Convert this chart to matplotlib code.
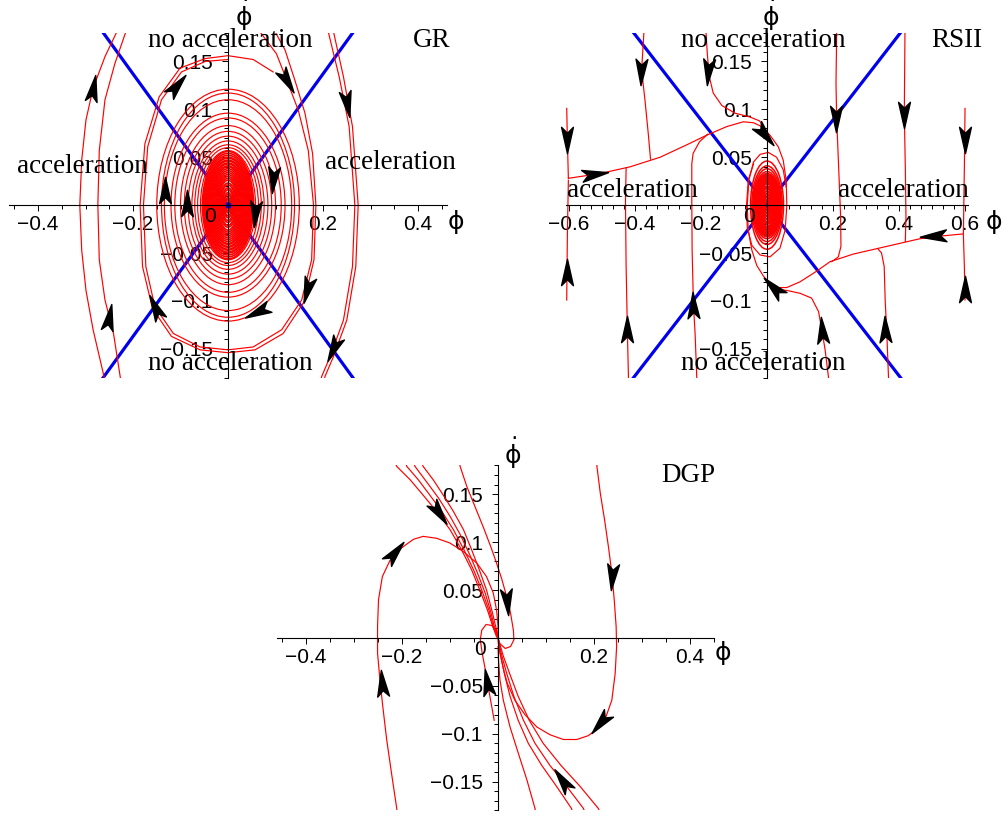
import matplotlib
matplotlib.use("Agg")
import matplotlib.pyplot as plt
from matplotlib.patches import Ellipse
from matplotlib.path import Path
from matplotlib.markers import MarkerStyle
from matplotlib.transforms import Affine2D
from matplotlib.ticker import MultipleLocator

plt.rcParams['font.family'] = 'Liberation Sans'
plt.rcParams['mathtext.fontset'] = 'dejavusans'

# ---------------- GR panel ----------------
gr_slope = 0.685

gr_l1_x = [-0.228, -0.234, -0.259, -0.284, -0.299, -0.308, -0.312, -0.308, -0.299, -0.284, -0.261, -0.255]
gr_l1_y = [0.190, 0.181, 0.155, 0.122, 0.089, 0.047, 0.0, -0.047, -0.089, -0.130, -0.179, -0.190]
gr_l2_x = [-0.210, -0.215, -0.238, -0.259, -0.271, -0.274, -0.271, -0.259, -0.241, -0.227, -0.224]
gr_l2_y = [0.190, 0.181, 0.148, 0.110, 0.057, 0.0, -0.057, -0.099, -0.134, -0.179, -0.190]
gr_r1_x = [0.218, 0.222, 0.243, 0.262, 0.274, 0.269, 0.250, 0.222, 0.204, 0.200]
gr_r1_y = [0.190, 0.181, 0.134, 0.082, 0.0, -0.064, -0.120, -0.158, -0.179, -0.190]
gr_r2_x = [0.207, 0.211, 0.234, 0.255, 0.267, 0.262, 0.243, 0.215, 0.197, 0.193]
gr_r2_y = [0.190, 0.181, 0.134, 0.082, 0.0, -0.064, -0.120, -0.158, -0.179, -0.190]

gr_c1_x = [0.060, 0.067, 0.102, 0.124, 0.148, 0.169, 0.180, 0.176, 0.155, 0.113, 0.053, 0.0,
           -0.059, -0.115, -0.154, -0.173, -0.178, -0.169, -0.140, -0.098, -0.048, 0.0]
gr_c1_y = [0.190, 0.181, 0.158, 0.130, 0.099, 0.057, 0.0, -0.057, -0.099, -0.130, -0.148, -0.151,
           -0.148, -0.134, -0.106, -0.064, 0.0, 0.061, 0.110, 0.139, 0.150, 0.152]
gr_c2_x = [0.094, 0.099, 0.120, 0.141, 0.162, 0.178, 0.185, 0.181, 0.160, 0.116, 0.057, 0.0,
           -0.059, -0.119, -0.159, -0.180, -0.185, -0.175, -0.145, -0.101, -0.048, 0.0, 0.053, 0.095]
gr_c2_y = [0.190, 0.181, 0.162, 0.130, 0.096, 0.054, 0.0, -0.057, -0.101, -0.134, -0.151, -0.154,
           -0.151, -0.137, -0.108, -0.064, 0.0, 0.064, 0.113, 0.143, 0.153, 0.156, 0.152, 0.139]

gr_ring_a = [0.150, 0.140, 0.134, 0.120, 0.112, 0.100, 0.092, 0.084, 0.076, 0.070, 0.064, 0.058]
gr_ring_b = [0.121, 0.117, 0.110, 0.096, 0.091, 0.083, 0.077, 0.072, 0.067, 0.063, 0.060, 0.057]
gr_core_a = [0.054, 0.052, 0.050, 0.048, 0.046, 0.044, 0.042, 0.040, 0.038, 0.036, 0.034, 0.032, 0.030,
             0.028, 0.026, 0.024, 0.022, 0.020, 0.018, 0.016, 0.014, 0.012, 0.010, 0.008, 0.006, 0.004]
gr_core_b = [0.056, 0.054, 0.052, 0.050, 0.049, 0.047, 0.046, 0.044, 0.043, 0.041, 0.040, 0.038, 0.036,
             0.034, 0.032, 0.030, 0.028, 0.026, 0.023, 0.021, 0.018, 0.016, 0.013, 0.011, 0.008, 0.006]

gr_arrow_x = [-0.284, -0.108, 0.124, 0.250, 0.095, 0.057, -0.087, -0.133, 0.166, 0.060, 0.222, -0.154, -0.250]
gr_arrow_y = [0.122, 0.125, 0.130, 0.106, 0.026, -0.009, 0.002, 0.016, -0.089, -0.111, -0.150, -0.106, -0.117]
gr_arrow_ang = [80, 50, -60, -80, -95, -95, 90, 90, -105, -155, -115, 115, 80]

# ---------------- RSII panel ----------------
rs_slope = 0.445

rs_v1a_x = [-0.607, -0.605, -0.602]
rs_v1a_y = [0.101, 0.068, 0.028]
rs_v1b_x = [-0.607, -0.605, -0.602]
rs_v1b_y = [-0.099, -0.030, 0.026]
rs_m1_x = [-0.602, -0.506, -0.415, -0.324, -0.243, -0.183, -0.122, -0.072, -0.041, -0.016, 0.009,
           0.034, 0.049, 0.058, 0.060, 0.055, 0.039, 0.009, -0.021, -0.046, -0.060, -0.062, -0.057, -0.041]
rs_m1_y = [0.028, 0.033, 0.040, 0.050, 0.063, 0.073, 0.082, 0.087, 0.086, 0.082, 0.073,
           0.061, 0.047, 0.026, 0.0, -0.026, -0.045, -0.054, -0.052, -0.042, -0.023, 0.0, 0.026, 0.043]
rs_v2_x = [-0.373, -0.373, -0.380, -0.370, -0.360, -0.353]
rs_v2_y = [0.190, 0.181, 0.141, 0.110, 0.075, 0.048]
rs_v3_x = [-0.420, -0.420, -0.423, -0.427, -0.429, -0.427]
rs_v3_y = [-0.190, -0.179, -0.134, -0.064, 0.005, 0.039]
rs_v4_x = [-0.213, -0.213, -0.218, -0.223, -0.227, -0.228, -0.228, -0.224, -0.205, -0.180]
rs_v4_y = [-0.190, -0.179, -0.134, -0.104, -0.047, 0.005, 0.043, 0.054, 0.066, 0.074]
rs_u1_x = [-0.186, -0.185, -0.181, -0.175, -0.163, -0.137, -0.097, -0.052, -0.023, -0.003]
rs_u1_y = [0.190, 0.181, 0.158, 0.134, 0.117, 0.104, 0.096, 0.092, 0.088, 0.078]

rs_v5a_x = [0.600, 0.598, 0.595]
rs_v5a_y = [0.101, 0.040, -0.030]
rs_v5b_x = [0.600, 0.598, 0.595]
rs_v5b_y = [-0.099, -0.064, -0.031]
rs_m2_x = [0.595, 0.534, 0.464, 0.363, 0.262, 0.191, 0.150, 0.100, 0.060, 0.029, 0.009, -0.011,
           -0.031, -0.046, -0.057, -0.060, -0.055, -0.041, -0.021, 0.004, 0.029, 0.049, 0.058]
rs_m2_y = [-0.030, -0.032, -0.035, -0.043, -0.051, -0.059, -0.069, -0.080, -0.086, -0.086, -0.082, -0.074,
           -0.063, -0.047, -0.026, 0.0, 0.026, 0.045, 0.053, 0.055, 0.050, 0.037, 0.019]
rs_l1_x = [0.187, 0.186, 0.176, 0.166, 0.156, 0.135, 0.100, 0.060, 0.034]
rs_l1_y = [-0.190, -0.179, -0.151, -0.130, -0.111, -0.097, -0.092, -0.089, -0.088]
rs_v6_x = [0.211, 0.211, 0.209, 0.211, 0.217, 0.223, 0.224, 0.216, 0.196]
rs_v6_y = [0.190, 0.181, 0.127, 0.090, 0.040, -0.012, -0.043, -0.054, -0.059]
rs_v7_x = [0.418, 0.418, 0.416, 0.419, 0.421, 0.419]
rs_v7_y = [0.190, 0.181, 0.096, 0.040, -0.012, -0.038]
rs_v8_x = [0.368, 0.368, 0.363, 0.358, 0.355, 0.347, 0.337]
rs_v8_y = [-0.190, -0.179, -0.134, -0.099, -0.064, -0.050, -0.046]

rs_core_a = [0.050, 0.046, 0.043, 0.041, 0.040, 0.039, 0.037, 0.036, 0.034, 0.033, 0.031, 0.030, 0.028, 0.027,
             0.025, 0.024, 0.022, 0.021, 0.019, 0.018, 0.016, 0.015, 0.013, 0.012, 0.010, 0.009, 0.007, 0.006, 0.004]
rs_core_b = [0.046, 0.041, 0.038, 0.035, 0.033, 0.032, 0.031, 0.030, 0.029, 0.028, 0.027, 0.026, 0.025, 0.024,
             0.023, 0.022, 0.020, 0.019, 0.018, 0.017, 0.015, 0.014, 0.012, 0.011, 0.009, 0.008, 0.006, 0.005, 0.004]

rs_arrow_x = [-0.607, -0.607, -0.383, -0.425, -0.223, -0.178, -0.006, -0.520,
              0.600, 0.600, 0.504, 0.019, 0.166, 0.209, 0.415, 0.358]
rs_arrow_y = [0.068, -0.070, 0.139, -0.129, -0.104, 0.139, 0.073, 0.032,
              0.068, -0.087, -0.032, -0.085, -0.130, 0.090, 0.094, -0.129]
rs_arrow_ang = [-90, 90, -92, 90, 92, -95, -50, 8,
                -90, 90, 183, 135, 95, -90, -90, 92]

# ---------------- DGP panel ----------------
dg_d1_x = [-0.209, -0.211, -0.222, -0.232, -0.240, -0.246, -0.251, -0.251, -0.249, -0.241, -0.225,
           -0.201, -0.176, -0.156, -0.128, -0.100, -0.072, -0.044, -0.024, -0.010, -0.003, 0.0, 0.0]
dg_d1_y = [-0.190, -0.178, -0.141, -0.106, -0.072, -0.044, -0.016, 0.012, 0.040, 0.064, 0.081,
           0.094, 0.103, 0.106, 0.104, 0.099, 0.090, 0.078, 0.064, 0.047, 0.029, 0.012, 0.001]
dg_d2_x = [0.204, 0.206, 0.213, 0.222, 0.230, 0.237, 0.242, 0.246, 0.247, 0.244, 0.237, 0.225, 0.209,
           0.188, 0.164, 0.136, 0.108, 0.081, 0.056, 0.035, 0.019, 0.010, 0.004, 0.001]
dg_d2_y = [0.190, 0.179, 0.151, 0.123, 0.095, 0.068, 0.040, 0.012, -0.009, -0.037, -0.065, -0.082, -0.094,
           -0.102, -0.106, -0.106, -0.101, -0.093, -0.080, -0.065, -0.047, -0.030, -0.016, -0.006]
dg_d3_x = [-0.083, -0.079, -0.065, -0.048, -0.031, -0.015, -0.003, 0.008, 0.018, 0.026, 0.032, 0.033,
           0.026, 0.015, 0.004, 0.001]
dg_d3_y = [0.190, 0.179, 0.158, 0.137, 0.116, 0.095, 0.078, 0.061, 0.043, 0.026, 0.008, -0.002,
           -0.009, -0.011, -0.006, -0.002]
dg_b1_x = [-0.220, -0.211, -0.183, -0.156, -0.128, -0.100, -0.076, -0.055, -0.038, -0.022, -0.011, -0.003]
dg_b2_x = [-0.198, -0.190, -0.166, -0.142, -0.117, -0.093, -0.071, -0.051, -0.034, -0.019, -0.010, -0.001]
dg_b4_x = [-0.164, -0.156, -0.135, -0.114, -0.093, -0.072, -0.055, -0.039, -0.024, -0.013, -0.005, 0.001]
dg_b_y = [0.190, 0.179, 0.165, 0.149, 0.132, 0.113, 0.092, 0.071, 0.050, 0.029, 0.012, 0.001]
dg_b3_x = [-0.181, -0.173, -0.149, -0.124, -0.100, -0.079, -0.060, -0.043, -0.027, -0.015, -0.007, 0.0]
dg_b3_y = [0.190, 0.179, 0.163, 0.146, 0.127, 0.108, 0.088, 0.068, 0.047, 0.027, 0.010, 0.001]
dg_e1_x = [0.160, 0.153, 0.122, 0.091, 0.063, 0.042, 0.025, 0.013, 0.006, 0.001, 0.0]
dg_e2_x = [0.186, 0.178, 0.143, 0.108, 0.077, 0.053, 0.033, 0.018, 0.008, 0.003, 0.001]
dg_e3_x = [0.218, 0.209, 0.171, 0.131, 0.094, 0.065, 0.042, 0.024, 0.011, 0.004, 0.001]
dg_e_y = [-0.190, -0.178, -0.155, -0.133, -0.110, -0.086, -0.061, -0.037, -0.019, -0.007, -0.002]
dg_d4_x = [0.081, 0.077, 0.060, 0.042, 0.025, 0.011, 0.004, 0.001, 0.0]
dg_d4_y = [-0.190, -0.178, -0.148, -0.120, -0.093, -0.065, -0.044, -0.023, -0.009]
dg_d5_x = [-0.008, -0.017, -0.025, -0.033, -0.037, -0.034, -0.025, -0.013, -0.004, -0.001]
dg_d5_y = [-0.086, -0.061, -0.037, -0.016, -0.002, 0.008, 0.014, 0.013, 0.008, 0.001]

dg_arrow_x = [-0.215, -0.242, 0.237, 0.213, 0.018, -0.124, 0.133, -0.024]
dg_arrow_y = [0.090, -0.047, 0.064, -0.089, 0.038, 0.130, -0.148, -0.046]
dg_arrow_ang = [50, 95, -95, -130, -85, -55, 125, 100]

# arrow head shape (Maple style, pointing along +x)
head = Path([(1, 0), (-1, 0.45), (-0.55, 0), (-1, -0.45), (1, 0)],
            [Path.MOVETO, Path.LINETO, Path.LINETO, Path.LINETO, Path.CLOSEPOLY])

RED = '#ff0000'
BLUE = '#0000ee'
PHI = '$\\mathrm{\\phi}$'
PHIDOT = '$\\dot{\\mathrm{\\phi}}$'


def setup_axes(ax, xlim, xticks, xlabels, xminor, xlab_pos, ylab_pos):
    ax.set_xlim(*xlim)
    ax.set_ylim(-0.18, 0.18)
    ax.patch.set_alpha(0)
    for s in ['top', 'right']:
        ax.spines[s].set_visible(False)
    ax.spines['left'].set_position(('data', 0))
    ax.spines['bottom'].set_position(('data', 0))
    for s in ['left', 'bottom']:
        ax.spines[s].set_linewidth(0.8)
        ax.spines[s].set_zorder(6)
    ax.set_xticks(xticks, xlabels)
    ax.set_yticks([-0.15, -0.1, -0.05, 0.05, 0.1, 0.15],
                  ['\u22120.15', '\u22120.1', '\u22120.05', '0.05', '0.1', '0.15'])
    ax.xaxis.set_minor_locator(MultipleLocator(xminor))
    ax.yaxis.set_minor_locator(MultipleLocator(0.01))
    ax.tick_params(which='both', direction='out', width=0.7, labelsize=15, zorder=6)
    ax.tick_params(which='major', length=4)
    ax.tick_params(which='minor', length=3)
    ax.tick_params(axis='x', pad=3)
    ax.tick_params(axis='y', pad=7)
    ax.annotate('0', xy=(0, 0), xytext=(-13, -8), textcoords='offset points',
                ha='center', va='center', fontsize=15)
    ax.text(xlab_pos[0], xlab_pos[1], PHI, fontsize=18, ha='center', va='center', clip_on=False)
    ax.text(ylab_pos[0], ylab_pos[1], PHIDOT, fontsize=18, ha='center', va='center', clip_on=False)


def draw_curves(ax, curves):
    for xs, ys in curves:
        ax.plot(xs, ys, color=RED, lw=0.85, zorder=3)


def draw_rings(ax, a_list, b_list, lw=0.85):
    for a, b in zip(a_list, b_list):
        ax.add_patch(Ellipse((0, 0), 2 * a, 2 * b, fill=False, ec=RED, lw=lw, zorder=3))


def draw_arrows(ax, xs, ys, angs):
    for x, y, ang in zip(xs, ys, angs):
        m = MarkerStyle(head, transform=Affine2D().rotate_deg(ang))
        ax.plot(x, y, marker=m, ms=19, color='black', mec='black', zorder=5, clip_on=False)


def draw_bounds(ax, slope):
    ax.axline((0, 0), slope=slope, color=BLUE, lw=2.3, zorder=2)
    ax.axline((0, 0), slope=-slope, color=BLUE, lw=2.3, zorder=2)


def label(ax, x, y, s):
    ax.text(x, y, s, family='Liberation Serif', fontsize=19.5, ha='center', va='center', zorder=7)


fig = plt.figure(figsize=(10.07, 8.17), dpi=100)

# GR
ax1 = fig.add_axes([0.00943, 0.5378, 0.434, 0.4222])
draw_bounds(ax1, gr_slope)
draw_curves(ax1, [(gr_l1_x, gr_l1_y), (gr_l2_x, gr_l2_y), (gr_r1_x, gr_r1_y), (gr_r2_x, gr_r2_y),
                  (gr_c1_x, gr_c1_y), (gr_c2_x, gr_c2_y)])
draw_rings(ax1, gr_ring_a, gr_ring_b)
draw_rings(ax1, gr_core_a, gr_core_b, lw=1.2)
ax1.plot(0, 0, marker='s', ms=3, color=BLUE, zorder=4)
draw_arrows(ax1, gr_arrow_x, gr_arrow_y, gr_arrow_ang)
setup_axes(ax1, (-0.46, 0.46), [-0.4, -0.2, 0.2, 0.4],
           ['\u22120.4', '\u22120.2', '0.2', '0.4'], 0.05, (0.478, -0.018), (0.032, 0.198))
label(ax1, 0.004, 0.172, 'no acceleration')
label(ax1, 0.004, -0.165, 'no acceleration')
label(ax1, -0.307, 0.040, 'acceleration')
label(ax1, 0.341, 0.045, 'acceleration')
label(ax1, 0.429, 0.172, 'GR')

# RSII
ax2 = fig.add_axes([0.5618, 0.5378, 0.3998, 0.4222])
draw_bounds(ax2, rs_slope)
draw_curves(ax2, [(rs_v1a_x, rs_v1a_y), (rs_v1b_x, rs_v1b_y), (rs_m1_x, rs_m1_y), (rs_v2_x, rs_v2_y),
                  (rs_v3_x, rs_v3_y), (rs_v4_x, rs_v4_y), (rs_u1_x, rs_u1_y),
                  (rs_v5a_x, rs_v5a_y), (rs_v5b_x, rs_v5b_y), (rs_m2_x, rs_m2_y), (rs_l1_x, rs_l1_y),
                  (rs_v6_x, rs_v6_y), (rs_v7_x, rs_v7_y), (rs_v8_x, rs_v8_y)])
draw_rings(ax2, rs_core_a, rs_core_b, lw=1.1)
draw_arrows(ax2, rs_arrow_x, rs_arrow_y, rs_arrow_ang)
setup_axes(ax2, (-0.61, 0.61), [-0.6, -0.4, -0.2, 0.2, 0.4, 0.6],
           ['\u22120.6', '\u22120.4', '\u22120.2', '0.2', '0.4', '0.6'], 0.2 / 6,
           (0.685, -0.018), (0.010, 0.198))
label(ax2, -0.012, 0.172, 'no acceleration')
label(ax2, -0.012, -0.165, 'no acceleration')
label(ax2, -0.409, 0.015, 'acceleration')
label(ax2, 0.412, 0.015, 'acceleration')
label(ax2, 0.576, 0.172, 'RSII')

# DGP
ax3 = fig.add_axes([0.2753, 0.00808, 0.4338, 0.4222])
draw_curves(ax3, [(dg_d1_x, dg_d1_y), (dg_d2_x, dg_d2_y), (dg_d3_x, dg_d3_y),
                  (dg_b1_x, dg_b_y), (dg_b2_x, dg_b_y), (dg_b3_x, dg_b3_y), (dg_b4_x, dg_b_y),
                  (dg_e1_x, dg_e_y), (dg_e2_x, dg_e_y), (dg_e3_x, dg_e_y),
                  (dg_d4_x, dg_d4_y), (dg_d5_x, dg_d5_y)])
draw_arrows(ax3, dg_arrow_x, dg_arrow_y, dg_arrow_ang)
setup_axes(ax3, (-0.46, 0.45), [-0.4, -0.2, 0.2, 0.4],
           ['\u22120.4', '\u22120.2', '0.2', '0.4'], 0.05, (0.467, -0.016), (0.031, 0.193))
label(ax3, 0.396, 0.170, 'DGP')

fig.savefig('out.png', dpi=100)
